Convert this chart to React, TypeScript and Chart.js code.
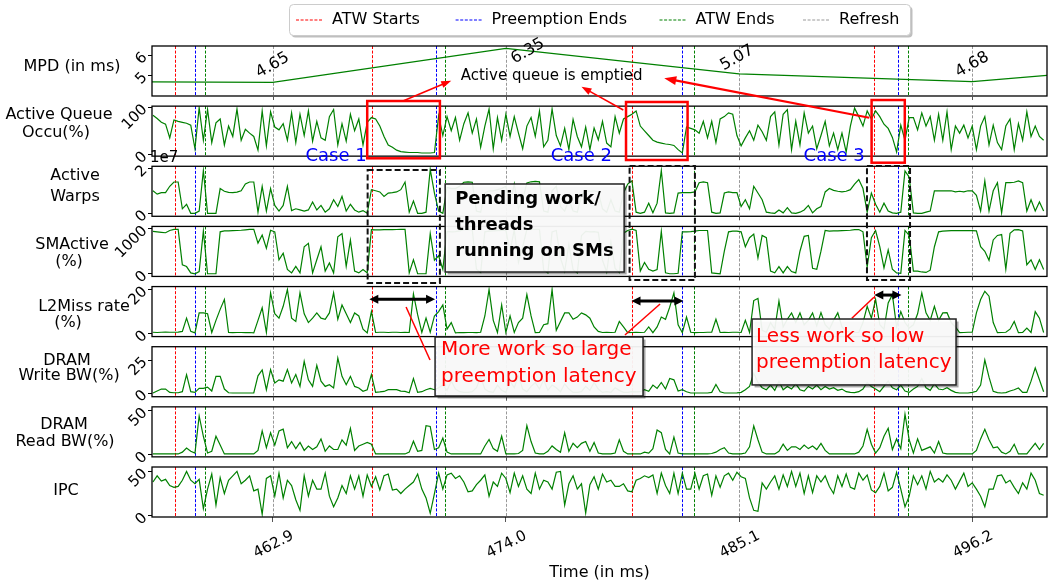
import React, { useEffect, useRef } from 'react';
import { Chart, registerables } from 'chart.js';

Chart.register(...registerables);

const W = 1049;
const H = 586;
const FONT = "'DejaVu Sans', sans-serif";

// ---------------- sampling clock (ms) ----------------
const SAMPLE_START_MS = 457.2;
const SAMPLE_STEP_MS = 0.2;
const SAMPLE_COUNT = 213;
const TIME_MS = Array.from({ length: SAMPLE_COUNT }, (_, i) => Math.round((SAMPLE_START_MS + i * SAMPLE_STEP_MS) * 10) / 10);

const X_MIN = 457.155;
const X_MAX = 499.76;
const X_TICKS = [462.9, 474.0, 485.1, 496.2];

// ---------------- events ----------------
const ATW_STARTS = [458.25, 467.64, 480.02, 491.52];
const PREEMPTION_ENDS = [459.22, 470.66, 482.4, 492.65];
const ATW_ENDS = [459.69, 471.12, 482.94, 493.14];
const REFRESHES = [462.9, 474.0, 485.1, 496.2];

// ---------------- MPD ----------------
const MPD_TIME = [457.155, 462.9, 474.0, 485.1, 496.2, 499.76];
const MPD_VALUES = [4.67, 4.65, 6.35, 5.07, 4.68, 5.0];
const MPD_LABELLED = [1, 2, 3, 4];

// ---------------- sampled series ----------------
const ACTIVE_QUEUE = [
  83, 76, 68, 64, 35, 73, 70, 68, 66, 62,
  12, 99, 30, 95, 25, 67, 75, 20, 60, 38,
  96, 30, 53, 45, 38, 9, 92, 18, 90, 58,
  52, 65, 30, 88, 25, 85, 40, 92, 28, 70,
  35, 30, 80, 95, 20, 65, 28, 85, 50, 75,
  20, 68, 78, 75, 60, 38, 20, 15, 9, 6,
  5, 4, 4, 4, 3, 3, 3, 4, 82, 40,
  80, 50, 78, 30, 65, 88, 45, 75, 15, 60,
  96, 12, 78, 30, 85, 38, 80, 45, 12, 60,
  78, 38, 92, 16, 30, 96, 40, 18, 55, 10,
  74, 38, 16, 58, 10, 56, 31, 70, 24, 16,
  80, 45, 75, 80, 85, 92, 60, 50, 40, 30,
  26, 24, 22, 21, 19, 10, 3, 58, 55, 52,
  45, 70, 35, 70, 25, 75, 80, 88, 85, 40,
  18, 35, 50, 30, 62, 48, 30, 80, 90, 20,
  85, 95, 10, 70, 20, 88, 45, 60, 12, 40,
  70, 18, 45, 10, 45, 5, 60, 98, 80, 60,
  92, 75, 92, 80, 64, 55, 36, 5, 62, 30,
  78, 78, 52, 88, 60, 80, 30, 85, 30, 90,
  10, 60, 45, 62, 35, 60, 10, 60, 80, 20,
  62, 25, 10, 60, 75, 10, 65, 30, 90, 38,
  60, 38, 30,
];

// Active warps, in units of 1e7
const ACTIVE_WARPS = [
  1.0, 0.85, 0.92, 0.92, 1.2, 1.39, 1.39, 0.2, 0.4, 0.0,
  0.0, 0.1, 1.9, 0.0, 0.0, 0.0, 1.1, 0.98, 0.93, 0.92,
  0.94, 1.0, 1.3, 1.39, 1.39, 0.05, 1.2, 0.1, 1.1, 0.35,
  0.1, 0.35, 1.2, 0.12, 0.2, 0.15, 0.1, 0.15, 0.5, 0.15,
  0.35, 0.05, 0.2, 0.6, 0.3, 0.75, 0.1, 0.4, 0.15, 0.05,
  0.12, 0.0, 1.05, 1.0, 0.95, 0.75, 0.9, 0.92, 0.95, 1.05,
  1.39, 0.05, 0.55, 0.0, 0.0, 0.05, 1.95, 0.9, 0.1, 0.0,
  1.15, 1.1, 1.1, 1.2, 1.38, 1.4, 1.38, 0.1, 0.05, 0.9,
  1.0, 1.0, 1.05, 1.1, 1.2, 0.4, 1.3, 0.2, 0.6, 1.35,
  1.4, 1.42, 1.4, 0.1, 0.05, 1.0, 1.2, 0.3, 0.1, 0.6,
  0.1, 0.05, 0.8, 1.0, 0.98, 1.0, 0.95, 0.2, 0.05, 0.6,
  0.1, 0.05, 0.9, 1.3, 1.44, 0.05, 0.0, 0.05, 0.45, 0.02,
  0.45, 1.9, 0.02, 0.0, 0.02, 0.9, 0.92, 0.92, 0.92, 0.95,
  1.36, 1.4, 1.36, 0.05, 0.0, 0.02, 0.9, 0.95, 0.92, 0.92,
  0.3, 0.6, 0.2, 1.2, 0.9, 0.6, 0.05, 0.02, 0.0, 0.15,
  0.02, 0.25, 0.02, 0.0, 0.05, 0.15, 0.35, 0.02, 0.2, 0.3,
  0.95, 1.1, 1.02, 0.98, 0.95, 0.98, 1.05, 1.3, 1.5, 1.1,
  0.05, 0.9, 0.4, 0.05, 0.45, 0.1, 0.02, 0.0, 0.05, 1.88,
  1.6, 0.02, 0.0, 0.0, 0.05, 0.1, 1.0, 1.0, 1.0, 1.0,
  1.0, 0.95, 0.98, 0.95, 1.0, 1.0, 0.8, 0.1, 1.44, 0.1,
  1.0, 1.36, 0.02, 1.36, 1.36, 1.38, 1.44, 1.36, 0.1, 0.6,
  0.1, 0.5, 0.1,
];

const SM_ACTIVE = [
  940, 930, 920, 910, 960, 985, 985, 200, 160, 20,
  0, 50, 950, 0, 0, 0, 930, 950, 950, 955,
  960, 965, 975, 985, 985, 680, 860, 565, 965, 930,
  310, 455, 95, 20, 165, 20, 600, 675, 20, 310,
  600, 60, 240, 20, 820, 890, 165, 745, 60, 20,
  95, 20, 980, 975, 975, 978, 980, 980, 982, 985,
  985, 20, 310, 0, 0, 0, 890, 300, 400, 100,
  940, 930, 935, 950, 980, 985, 980, 100, 30, 930,
  945, 950, 955, 960, 965, 500, 975, 250, 600, 980,
  985, 985, 985, 80, 20, 930, 960, 350, 60, 650,
  90, 20, 850, 940, 930, 935, 920, 300, 40, 700,
  120, 30, 900, 960, 990, 960, 60, 250, 100, 60,
  95, 940, 20, 0, 0, 10, 930, 930, 935, 945,
  960, 960, 960, 20, 10, 0, 500, 930, 945, 945,
  930, 600, 800, 880, 350, 850, 800, 60, 20, 160,
  20, 160, 50, 20, 500, 830, 850, 120, 100, 500,
  960, 945, 950, 950, 955, 960, 965, 980, 980, 930,
  150, 800, 960, 600, 130, 530, 100, 20, 10, 960,
  850, 60, 60, 40, 30, 80, 600, 930, 945, 950,
  955, 955, 955, 955, 955, 955, 950, 600, 500, 300,
  750, 850, 870, 100, 900, 975, 980, 950, 200, 310,
  95, 310, 95,
];

const L2_MISS = [
  0.6, 0.5, 0.6, 0.7, 0.6, 0.6, 0.7, 1.0, 7.0, 1.0,
  0.3, 9.4, 9.4, 9.0, 0.5, 6.0, 11.0, 15.5, 0.5, 0.4,
  0.5, 0.5, 0.4, 0.5, 0.3, 6.0, 11.7, 0.5, 18.5, 9.0,
  7.0, 12.4, 20.0, 7.0, 5.5, 18.5, 9.0, 5.0, 7.0, 9.4,
  7.0, 6.5, 9.4, 18.5, 6.5, 13.0, 9.0, 5.0, 9.4, 8.0,
  2.0, 0.3, 10.0, 0.5, 0.6, 0.6, 0.5, 0.6, 0.6, 0.5,
  0.6, 0.5, 18.0, 8.6, 0.5, 7.0, 0.6, 8.0, 10.0, 13.0,
  2.0, 5.0, 0.3, 0.5, 0.4, 0.5, 0.5, 0.4, 0.6, 8.0,
  20.0, 6.0, 0.5, 13.0, 0.5, 8.0, 0.5, 5.0, 7.0, 17.7,
  8.0, 0.4, 0.5, 4.0, 4.5, 20.0, 1.5, 5.5, 9.4, 9.4,
  6.5, 7.5, 9.4, 8.5, 7.0, 3.0, 1.0, 0.5, 0.6, 0.5,
  0.6, 5.5, 3.0, 0.4, 0.5, 0.6, 0.5, 0.6, 3.0, 0.4,
  3.0, 7.5, 6.5, 12.0, 18.5, 4.0, 0.4, 7.5, 0.6, 0.4,
  0.5, 0.5, 0.6, 0.6, 6.5, 0.5, 0.6, 0.5, 0.6, 0.6,
  0.5, 6.0, 0.5, 15.0, 16.0, 1.5, 0.6, 5.0, 2.0, 14.7,
  3.0, 6.5, 9.4, 5.0, 9.4, 4.0, 6.0, 9.4, 3.5, 9.5,
  4.0, 2.0, 6.0, 9.4, 3.0, 1.0, 0.6, 0.5, 0.5, 5.0,
  12.4, 7.0, 15.5, 4.0, 2.0, 13.9, 17.7, 3.0, 10.0, 5.0,
  2.5, 4.0, 9.0, 18.5, 9.4, 6.0, 12.4, 6.0, 9.4, 9.5,
  5.0, 3.0, 0.4, 0.5, 0.6, 0.6, 9.4, 15.5, 19.2, 17.0,
  5.0, 0.4, 0.5, 0.6, 2.0, 5.5, 0.4, 0.5, 2.5, 0.5,
  10.0, 7.0, 0.5,
];

const DRAM_WRITE = [
  0.0, 1.5, 3.0, 3.0, 0.5, 0.2, 0.2, 1.0, 13.9, 1.0,
  0.5, 3.5, 3.5, 4.5, 1.5, 12.6, 12.6, 3.0, 0.2, 0.0,
  0.0, 0.0, 0.0, 0.0, 0.1, 13.0, 17.5, 2.5, 17.7, 7.6,
  10.0, 9.0, 17.7, 7.6, 14.0, 5.0, 24.0, 10.0, 5.0, 21.0,
  9.0, 5.0, 6.3, 3.8, 26.5, 12.6, 6.3, 12.6, 5.0, 3.8,
  1.3, 2.5, 13.9, 0.5, 0.8, 1.2, 2.5, 2.5, 2.5, 1.5,
  1.2, 0.2, 11.0, 0.5, 1.0, 2.5, 3.5, 2.5, 4.0, 6.0,
  2.0, 9.0, 3.0, 1.0, 0.5, 0.5, 1.0, 4.0, 12.0, 3.0,
  1.0, 0.5, 6.0, 2.0, 0.5, 9.0, 4.0, 13.0, 3.0, 1.0,
  5.0, 8.0, 3.0, 10.0, 2.0, 6.0, 4.0, 1.0, 7.0, 3.0,
  0.5, 0.5, 1.0, 5.0, 2.0, 8.0, 3.0, 0.5, 1.0, 0.5,
  4.0, 2.0, 0.5, 0.5, 1.0, 0.8, 1.0, 2.5, 1.3, 6.0,
  3.5, 8.0, 3.0, 11.0, 10.0, 1.5, 2.5, 1.0, 0.0, 0.0,
  0.0, 0.0, 0.0, 0.5, 6.5, 1.0, 0.0, 0.0, 0.0, 0.1,
  0.5, 2.5, 5.0, 15.0, 8.0, 4.0, 2.5, 6.0, 2.0, 9.0,
  2.5, 5.0, 3.0, 7.0, 2.5, 1.5, 5.0, 3.0, 6.0, 2.5,
  5.0, 3.0, 4.0, 2.0, 3.0, 1.0, 0.5, 0.3, 1.0, 3.0,
  8.0, 5.0, 3.0, 1.0, 5.0, 9.0, 4.0, 2.5, 6.0, 1.5,
  0.5, 3.0, 5.0, 11.0, 4.0, 2.0, 7.0, 3.0, 2.5, 4.0,
  2.0, 0.5, 0.0, 0.0, 0.0, 0.5, 1.3, 6.0, 25.0, 12.0,
  1.3, 0.3, 0.0, 0.3, 1.5, 2.5, 3.8, 0.5, 0.5, 9.0,
  19.0, 10.0, 1.0,
];

const DRAM_READ = [
  1, 1, 1, 1, 1, 1, 1, 3, 7.7, 4,
  2, 44, 21, 2, 4, 21, 11, 1, 1, 1,
  1, 1, 1, 1, 1, 5, 27, 8, 25, 11,
  27, 29, 8, 15, 7, 14, 5, 10, 6, 9,
  18, 4, 10, 6, 6, 17, 11, 30, 5, 10,
  12, 14, 12, 1, 1, 1, 1, 1, 1, 1,
  1, 3, 15.4, 4, 5, 33, 32, 6, 8, 19,
  3, 1, 1, 1, 1, 1, 1, 1, 1, 10,
  17.3, 7, 4, 21, 1, 1, 1, 1.5, 5, 33,
  15, 2, 1, 1, 4, 10, 6, 3, 25, 4,
  13, 8, 13, 15, 4, 14, 2, 1, 1, 1,
  2, 17, 4, 1, 1, 1, 1, 3, 2, 7,
  28, 25, 6, 1, 20, 2, 1, 1, 1, 1,
  1, 1, 1, 1.5, 3, 6, 8, 2, 1, 1,
  1, 2, 9, 32.7, 17, 3, 1, 1, 1, 4,
  12, 5, 9, 9, 6, 11, 7, 10, 6, 13,
  5, 1, 1, 1, 1, 1, 1, 1, 3, 10,
  28.8, 12, 2, 8, 21, 30, 6, 18, 7, 46,
  17, 2, 18, 5, 7, 9, 2, 15, 2, 1,
  1, 1, 1, 1, 1, 1, 5, 18, 28.8, 17,
  8, 9, 3, 1, 4, 12, 1, 1, 1, 7,
  13, 6, 13,
];

const IPC = [
  38, 45, 39, 41, 34, 32, 33, 40, 50, 40,
  36, 41, 8, 30, 47, 12, 43, 25, 40, 45,
  50, 36, 40, 45, 28, 30, 1.5, 42, 45, 22,
  48, 20, 40, 34, 18, 6, 45, 22, 40, 30,
  30, 48, 22, 10, 20, 34, 25, 45, 30, 45,
  22, 46, 33, 44, 29, 45, 47, 29, 30, 25,
  30, 34, 38, 47, 30, 20, 2.7, 25, 48, 30,
  46, 48, 42, 45, 38, 27, 28, 35, 40, 46,
  22, 38, 33, 48, 42, 26, 48, 33, 45, 30,
  25, 48, 30, 40, 38, 30, 49, 50, 12, 36,
  45, 30, 36, 3, 35, 44, 30, 47, 38, 40,
  33, 33, 36, 28, 27, 40, 42, 45, 43, 46,
  25, 48, 34, 25, 48, 25, 48, 30, 30, 48,
  30, 45, 47, 23, 45, 32, 45, 48, 40, 49,
  44, 42, 20, 6, 5, 37, 30, 38, 45, 30,
  46, 33, 50, 33, 48, 25, 45, 26, 45, 38,
  45, 33, 25, 45, 33, 47, 32, 30, 48, 40,
  46, 29, 26, 33, 48, 28, 32, 49, 30, 10,
  22, 45, 35, 45, 30, 50, 38, 42, 38, 46,
  40, 30, 39, 48, 33, 37, 30, 22, 10, 30,
  30, 45, 46, 37, 40, 32, 25, 37, 30, 48,
  40, 25, 23,
];

// ---------------- panels ----------------
const PANEL_LABELS = [
  ['MPD (in ms)'],
  ['Active Queue', 'Occu(%)'],
  ['Active', 'Warps'],
  ['SMActive', '(%)'],
  ['L2Miss rate', '(%)'],
  ['DRAM', 'Write BW(%)'],
  ['DRAM', 'Read BW(%)'],
  ['IPC'],
];
const PANEL_TICKS = [[5, 6], [0, 100], [0, 2], [0, 1000], [0, 20], [0, 25], [0, 50], [0, 50]];
const PANEL_LO = [3.965, -3.7, -0.133, -59, -1.36, -2.8, -2.31, -1.5];
const PANEL_HI = [6.465, 102.2, 2.089, 1050, 21.36, 35.08, 54.27, 54.95];

// ---------------- layout constants ----------------
const LEFT_PX = 152;
const TOP_PX = 46;
const RIGHT_PAD = 2;
const BOTTOM_PX = 69;
const PANEL_PX = 50;
const GAP_PX = 71 / 7;
const LABEL_X = [[72], [59, 56], [75, 75], [72, 69], [84, 68], [67, 69], [64, 65], [66]];
const LABEL_DY = [[-4], [-16, 2], [-15, 6], [-7, 10.5], [-4.5, 11], [-11, 4.5], [-7, 10], [-1.5]];
const MPD_LABEL_SHIFT = [[0, -17], [22, 3], [-2, -16], [0, -17]];

// ---------------- annotations (data units) ----------------
const QUEUE_BOXES = [[467.4, 470.86, 113.1, -8.3], [479.72, 482.65, 111.0, -11.9], [491.41, 492.99, 115.2, -17.6]];
const QUEUE_ARROWS = [
  { from: [469.1, 113.1], to: [471.4, 4.73], w: 1.5 },
  { from: [479.59, 94.0], to: [477.6, 4.43], w: 1.5 },
  { from: [491.3, 77.7], to: [481.54, 4.85], w: 2.2 },
];
const EMPTIED_NOTE = { text: 'Active queue is emptied', x: 476.18, y: 4.965 };
const CASE_LABELS = ['Case 1', 'Case 2', 'Case 3'];
const CASE_X = [465.92, 477.59, 489.63];
const CASE_Y = -5;
const WORK_BOXES = [[467.42, 470.86, 1.92, -205], [479.89, 483.0, 2.1, -140], [491.19, 493.24, 2.1, -140]];
const LATENCY_ARROWS = [[467.5, 470.63, 15.6], [479.98, 482.45, 14.8], [491.54, 492.83, 17.5]];
const POINTER_LINES = [
  [469.25, 4, 12.08, 470.39, 5, 25.0],
  [481.34, 4, 13.44, 479.67, 4, -0.65],
  [491.52, 4, 16.5, 490.47, 4, 6.94],
];
const PENDING_NOTE = { lines: ['Pending work/', 'threads', 'running on SMs'], x0: 471.11, x1: 479.63, top: [2, 1.302], bottom: [3, 39.2], fr: [0.17, 0.47, 0.76], pad: 10 };
const LATENCY_NOTES = [
  { lines: ['More work so large', 'preemption latency'], x0: 470.63, x1: 480.53, top: [4, -1.56], bottom: [5, -2.26], fr: [0.22, 0.68], pad: 6 },
  { lines: ['Less work so low', 'preemption latency'], x0: 485.72, x1: 495.43, top: [4, 6.62], bottom: [5, 6.13], fr: [0.27, 0.67], pad: 4 },
];
const LEGEND_LABELS = ['ATW Starts', 'Preemption Ends', 'ATW Ends', 'Refresh'];
const LEGEND_COLORS = ['#ff0000', '#0000ff', '#008000', '#999999'];
const LEGEND_X = [296, 455.6, 659.5, 803];

const EVENT_SETS = [
  { times: REFRESHES, color: '#999999' },
  { times: ATW_STARTS, color: '#ff0000' },
  { times: PREEMPTION_ENDS, color: '#0000ff' },
  { times: ATW_ENDS, color: '#008000' },
];

function yPx(chart: any, k: number, v: number) {
  return chart.scales['y' + k].getPixelForValue(v);
}
function xPx(chart: any, t: number) {
  return chart.scales.x.getPixelForValue(t);
}
function panelEdges(chart: any, k: number) {
  return { top: yPx(chart, k, PANEL_HI[k]), bottom: yPx(chart, k, PANEL_LO[k]) };
}
function head(ctx: CanvasRenderingContext2D, x0: number, y0: number, x1: number, y1: number, len: number, wid: number) {
  const a = Math.atan2(y1 - y0, x1 - x0);
  const bx = x1 - len * Math.cos(a);
  const by = y1 - len * Math.sin(a);
  ctx.beginPath();
  ctx.moveTo(x1, y1);
  ctx.lineTo(bx + (wid / 2) * Math.sin(a), by - (wid / 2) * Math.cos(a));
  ctx.lineTo(bx - (wid / 2) * Math.sin(a), by + (wid / 2) * Math.cos(a));
  ctx.closePath();
  ctx.fill();
}
function noteBox(ctx: CanvasRenderingContext2D, x0: number, y0: number, x1: number, y1: number) {
  ctx.save();
  ctx.fillStyle = 'rgba(0,0,0,0.35)';
  ctx.fillRect(x0 + 2.5, y0 + 2.5, x1 - x0, y1 - y0);
  ctx.fillStyle = 'rgba(255,255,255,0.92)';
  ctx.fillRect(x0, y0, x1 - x0, y1 - y0);
  ctx.strokeStyle = '#222';
  ctx.lineWidth = 1.5;
  ctx.strokeRect(x0, y0, x1 - x0, y1 - y0);
  ctx.restore();
}

const overlay = {
  id: 'overlay',
  beforeDatasetsDraw(chart: any) {
    const ctx: CanvasRenderingContext2D = chart.ctx;
    ctx.save();
    ctx.lineWidth = 1;
    ctx.setLineDash([3, 1.6]);
    for (let k = 0; k < 8; k++) {
      const { top, bottom } = panelEdges(chart, k);
      for (const ev of EVENT_SETS) {
        ctx.strokeStyle = ev.color;
        for (const t of ev.times) {
          const x = Math.round(xPx(chart, t)) + 0.5;
          ctx.beginPath();
          ctx.moveTo(x, top);
          ctx.lineTo(x, bottom);
          ctx.stroke();
        }
      }
    }
    ctx.restore();
  },
  afterDatasetsDraw(chart: any) {
    const ctx: CanvasRenderingContext2D = chart.ctx;
    const { left, right } = chart.chartArea;
    ctx.save();
    for (let k = 0; k < 8; k++) {
      const { top, bottom } = panelEdges(chart, k);
      ctx.strokeStyle = '#000';
      ctx.lineWidth = 1.3;
      ctx.strokeRect(left, top, right - left, bottom - top);
      if (k < 7) {
        ctx.strokeStyle = '#555';
        ctx.lineWidth = 1;
        for (const t of X_TICKS) {
          const x = Math.round(xPx(chart, t)) + 0.5;
          ctx.beginPath();
          ctx.moveTo(x, bottom);
          ctx.lineTo(x, bottom + 4);
          ctx.stroke();
        }
      }
    }
    ctx.restore();
  },
  afterDraw(chart: any) {
    const ctx: CanvasRenderingContext2D = chart.ctx;
    ctx.save();

    // MPD value labels
    ctx.fillStyle = '#000';
    ctx.font = `16px ${FONT}`;
    ctx.textAlign = 'center';
    ctx.textBaseline = 'middle';
    MPD_LABELLED.forEach((idx, j) => {
      const x = xPx(chart, MPD_TIME[idx]) + MPD_LABEL_SHIFT[j][0];
      const y = yPx(chart, 0, MPD_VALUES[idx]) + MPD_LABEL_SHIFT[j][1];
      ctx.save();
      ctx.translate(x, y);
      ctx.rotate((-30 * Math.PI) / 180);
      ctx.fillText(MPD_VALUES[idx].toFixed(2), 0, 0);
      ctx.restore();
    });

    // emptied note
    ctx.font = `15px ${FONT}`;
    ctx.fillText(EMPTIED_NOTE.text, xPx(chart, EMPTIED_NOTE.x), yPx(chart, 0, EMPTIED_NOTE.y));

    // red boxes around queue drops
    ctx.strokeStyle = '#ff0000';
    ctx.lineWidth = 2.5;
    for (const b of QUEUE_BOXES) {
      const x0 = xPx(chart, b[0]);
      const x1 = xPx(chart, b[1]);
      const y0 = yPx(chart, 1, b[2]);
      const y1 = yPx(chart, 1, b[3]);
      ctx.strokeRect(x0, y0, x1 - x0, y1 - y0);
    }
    // red arrows
    ctx.fillStyle = '#ff0000';
    for (const a of QUEUE_ARROWS) {
      const x0 = xPx(chart, a.from[0]);
      const y0 = yPx(chart, 1, a.from[1]);
      const x1 = xPx(chart, a.to[0]);
      const y1 = yPx(chart, 0, a.to[1]);
      const len = a.w > 2 ? 12 : 10;
      const ang = Math.atan2(y1 - y0, x1 - x0);
      ctx.lineWidth = a.w;
      ctx.beginPath();
      ctx.moveTo(x0, y0);
      ctx.lineTo(x1 - (len - 2) * Math.cos(ang), y1 - (len - 2) * Math.sin(ang));
      ctx.stroke();
      head(ctx, x0, y0, x1, y1, len, a.w > 2 ? 9 : 7);
    }

    // case labels
    ctx.fillStyle = '#0000ff';
    ctx.font = `18px ${FONT}`;
    ctx.textAlign = 'center';
    CASE_LABELS.forEach((c, i) => ctx.fillText(c, xPx(chart, CASE_X[i]), yPx(chart, 1, CASE_Y)));

    // dashed boxes over warps / SM active
    ctx.strokeStyle = '#111';
    ctx.lineWidth = 2;
    ctx.setLineDash([6, 3]);
    for (const b of WORK_BOXES) {
      const x0 = xPx(chart, b[0]);
      const x1 = xPx(chart, b[1]);
      const y0 = yPx(chart, 2, b[2]);
      const y1 = yPx(chart, 3, b[3]);
      ctx.strokeRect(x0, y0, x1 - x0, y1 - y0);
    }
    ctx.setLineDash([]);

    // pending work note
    {
      const n = PENDING_NOTE;
      const x0 = xPx(chart, n.x0);
      const x1 = xPx(chart, n.x1);
      const y0 = yPx(chart, n.top[0], n.top[1]);
      const y1 = yPx(chart, n.bottom[0], n.bottom[1]);
      noteBox(ctx, x0, y0, x1, y1);
      ctx.fillStyle = '#000';
      ctx.font = `bold 18px ${FONT}`;
      ctx.textAlign = 'left';
      ctx.textBaseline = 'middle';
      n.lines.forEach((l, i) => ctx.fillText(l, x0 + n.pad, y0 + (y1 - y0) * n.fr[i]));
    }

    // latency double arrows
    ctx.strokeStyle = '#000';
    ctx.fillStyle = '#000';
    ctx.lineWidth = 3;
    for (const a of LATENCY_ARROWS) {
      const x0 = xPx(chart, a[0]);
      const x1 = xPx(chart, a[1]);
      const y = yPx(chart, 4, a[2]);
      ctx.beginPath();
      ctx.moveTo(x0 + 6, y);
      ctx.lineTo(x1 - 6, y);
      ctx.stroke();
      head(ctx, x1, y, x0, y, 9, 9);
      head(ctx, x0, y, x1, y, 9, 9);
    }

    // red pointer lines
    ctx.strokeStyle = '#ff0000';
    ctx.lineWidth = 1.5;
    for (const p of POINTER_LINES) {
      ctx.beginPath();
      ctx.moveTo(xPx(chart, p[0]), yPx(chart, p[1], p[2]));
      ctx.lineTo(xPx(chart, p[3]), yPx(chart, p[4], p[5]));
      ctx.stroke();
    }

    // latency notes
    for (const n of LATENCY_NOTES) {
      const x0 = xPx(chart, n.x0);
      const x1 = xPx(chart, n.x1);
      const y0 = yPx(chart, n.top[0], n.top[1]);
      const y1 = yPx(chart, n.bottom[0], n.bottom[1]);
      noteBox(ctx, x0, y0, x1, y1);
      ctx.fillStyle = '#ff0000';
      ctx.font = `20px ${FONT}`;
      ctx.textAlign = 'left';
      ctx.textBaseline = 'middle';
      n.lines.forEach((l, i) => ctx.fillText(l, x0 + n.pad, y0 + (y1 - y0) * n.fr[i]));
    }

    // panel labels
    ctx.fillStyle = '#000';
    ctx.font = `16px ${FONT}`;
    ctx.textAlign = 'center';
    ctx.textBaseline = 'middle';
    for (let k = 0; k < 8; k++) {
      const { top, bottom } = panelEdges(chart, k);
      const cy = (top + bottom) / 2;
      PANEL_LABELS[k].forEach((l, i) => ctx.fillText(l, LABEL_X[k][i], cy + LABEL_DY[k][i]));
    }

    // offset text for warps
    {
      const { top } = panelEdges(chart, 2);
      ctx.font = `15px ${FONT}`;
      ctx.textAlign = 'left';
      ctx.fillText('1e7', chart.chartArea.left - 2, top - 8);
    }

    // legend
    {
      const bx = 289.5;
      const by = 4.5;
      const bw = 621;
      const bh = 31;
      ctx.fillStyle = 'rgba(0,0,0,0.25)';
      ctx.beginPath();
      ctx.roundRect(bx + 2, by + 2, bw, bh, 4);
      ctx.fill();
      ctx.fillStyle = '#fff';
      ctx.strokeStyle = '#cccccc';
      ctx.lineWidth = 1;
      ctx.beginPath();
      ctx.roundRect(bx, by, bw, bh, 4);
      ctx.fill();
      ctx.stroke();
      const cy = by + bh / 2;
      ctx.font = `16px ${FONT}`;
      ctx.textAlign = 'left';
      ctx.textBaseline = 'middle';
      LEGEND_LABELS.forEach((lab, i) => {
        const x = LEGEND_X[i];
        ctx.strokeStyle = LEGEND_COLORS[i];
        ctx.lineWidth = 1.1;
        ctx.setLineDash([3, 1.6]);
        ctx.beginPath();
        ctx.moveTo(x, cy);
        ctx.lineTo(x + 27, cy);
        ctx.stroke();
        ctx.setLineDash([]);
        ctx.fillStyle = '#000';
        ctx.fillText(lab, x + 36, cy);
      });
    }
    ctx.restore();
  },
};

function buildScales() {
  const scales: any = {
    x: {
      type: 'linear',
      position: 'bottom',
      min: X_MIN,
      max: X_MAX,
      afterBuildTicks: (s: any) => {
        s.ticks = X_TICKS.map((v) => ({ value: v }));
      },
      afterFit: (s: any) => {
        s.height = BOTTOM_PX;
      },
      border: { display: false },
      grid: { drawOnChartArea: false, drawTicks: true, tickLength: 5, color: '#555' },
      ticks: {
        minRotation: 27,
        maxRotation: 27,
        labelOffset: 20,
        padding: 5,
        autoSkip: false,
        color: '#000',
        font: { size: 15, family: FONT },
        callback: (v: any) => Number(v).toFixed(1),
      },
      title: { display: true, text: 'Time (in ms)', color: '#000', font: { size: 16, family: FONT }, padding: { top: 0, bottom: 4 } },
    },
  };
  for (let k = 0; k < 8; k++) {
    const lo = PANEL_LO[k];
    const hi = PANEL_HI[k];
    const last = k === 7;
    scales['y' + k] = {
      type: 'linear',
      position: 'left',
      stack: 'panels',
      stackWeight: last ? PANEL_PX : PANEL_PX + GAP_PX,
      weight: 8 - k,
      min: last ? lo : lo - ((hi - lo) * GAP_PX) / PANEL_PX,
      max: hi,
      afterBuildTicks: (s: any) => {
        s.ticks = PANEL_TICKS[k].map((v) => ({ value: v }));
      },
      afterFit: (s: any) => {
        s.width = LEFT_PX;
      },
      border: { display: false },
      grid: { drawOnChartArea: false, drawTicks: true, tickLength: 4, color: '#000' },
      ticks: {
        minRotation: 45,
        maxRotation: 45,
        padding: 3,
        autoSkip: false,
        color: '#000',
        font: { size: 15, family: FONT },
        callback: (v: any) => String(v),
      },
    };
  }
  return scales;
}

export default function App() {
  const ref = useRef<HTMLCanvasElement>(null);
  useEffect(() => {
    const canvas = ref.current;
    if (!canvas) return;
    Chart.defaults.font.family = FONT;
    Chart.defaults.color = '#000';
    const series = [ACTIVE_QUEUE, ACTIVE_WARPS, SM_ACTIVE, L2_MISS, DRAM_WRITE, DRAM_READ, IPC];
    const common = { borderColor: '#008000', borderWidth: 1.2, pointRadius: 0, fill: false, tension: 0 };
    const datasets: any[] = [
      { ...common, label: 'MPD', yAxisID: 'y0', data: MPD_TIME.map((t, i) => ({ x: t, y: MPD_VALUES[i] })) },
      ...series.map((s, k) => ({
        ...common,
        label: PANEL_LABELS[k + 1].join(' '),
        yAxisID: 'y' + (k + 1),
        data: TIME_MS.map((t, i) => ({ x: t, y: s[i] })),
      })),
    ];
    const chart = new Chart(canvas, {
      type: 'line',
      data: { datasets },
      options: {
        responsive: false,
        animation: false,
        devicePixelRatio: 1,
        layout: { padding: { top: TOP_PX, left: 0, right: RIGHT_PAD, bottom: 0 } },
        plugins: { legend: { display: false }, tooltip: { enabled: false } },
        scales: buildScales(),
      } as any,
      plugins: [overlay],
    });
    return () => chart.destroy();
  }, []);
  return (
    <div style={{ position: 'fixed', left: 0, top: 0, width: W, height: H, background: '#fff' }}>
      <canvas ref={ref} width={W} height={H} style={{ width: W, height: H, display: 'block' }} />
    </div>
  );
}
